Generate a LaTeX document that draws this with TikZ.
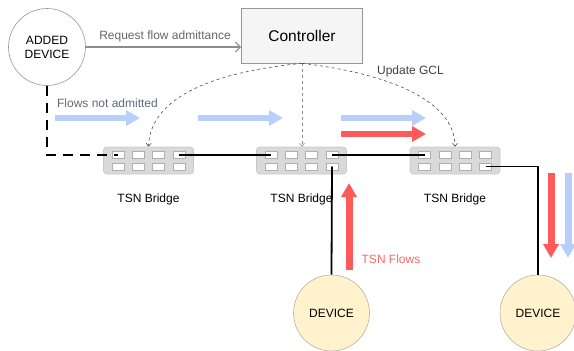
\documentclass[tikz,border=0pt]{standalone}
\usepackage{fontspec}
\setmainfont{Liberation Sans}
\usetikzlibrary{arrows.meta}
\definecolor{lblgray}{RGB}{102,102,102}
\definecolor{reqgray}{RGB}{140,140,140}
\definecolor{flowgray}{RGB}{95,105,120}
\definecolor{flowred}{RGB}{255,90,90}
\definecolor{txtred}{RGB}{255,102,102}
\definecolor{flowblue}{RGB}{183,207,250}
\definecolor{brfill}{RGB}{217,217,217}
\definecolor{bredge}{RGB}{200,200,200}
\definecolor{portedge}{RGB}{175,175,175}
\definecolor{devfill}{RGB}{255,242,204}
\definecolor{devedge}{RGB}{185,178,165}
\definecolor{ctrlfill}{RGB}{245,245,245}
\definecolor{ctrledge}{RGB}{150,150,150}
\begin{document}
\begin{tikzpicture}[x=1pt,y=-1pt,
  bridgebox/.style={draw=bredge, fill=brfill, rounded corners=3pt, minimum width=90pt, minimum height=27pt, inner sep=0pt, line width=0.6pt},
  port/.style={draw=portedge, fill=white, minimum width=12pt, minimum height=7pt, inner sep=0pt, line width=0.6pt},
  device/.style={circle, draw=devedge, fill=devfill, minimum size=76pt, inner sep=0pt, line width=0.6pt, font=\fontsize{12}{14}\selectfont},
  lbl/.style={font=\fontsize{12}{14}\selectfont, inner sep=0pt},
  flowarrow/.style={line width=6pt, -{Triangle[length=14pt,width=15pt]}},
  vflow/.style={line width=7pt, -{Triangle[length=14pt,width=15pt]}},
  link/.style={line width=1.8pt, black},
  dashlink/.style={line width=2pt, black, dash pattern=on 10pt off 7pt},
  ctrlline/.style={line width=0.6pt, dash pattern=on 3pt off 3pt, -{Straight Barb[length=3pt,width=5pt]}}
]
\useasboundingbox (0,0) rectangle (574,351);

% Controller and added device
\node[draw=ctrledge, fill=ctrlfill, minimum width=121pt, minimum height=55pt, inner sep=0pt, line width=0.6pt, font=\fontsize{15.5}{18}\selectfont] (ctrl) at (302,35.5) {Controller};
\node[circle, draw=ctrledge, fill=white, minimum size=77pt, inner sep=0pt, line width=0.6pt, align=center, font=\fontsize{12}{14}\selectfont] (added) at (47,47) {ADDED\\DEVICE};

% Bridges with ports
\foreach \b/\cx in {1/148.5,2/301.5,3/455}{
  \node[bridgebox] (br\b) at (\cx,160.5) {};
  \foreach \c/\dx in {1/-30.5,2/-10.2,3/10.2,4/30.5}{
    \node[port] (b\b-r1-c\c) at (\cx+\dx,155) {};
    \node[port] (b\b-r2-c\c) at (\cx+\dx,166.5) {};
  }
}
\node[lbl] (l1) at (148.5,199) {TSN Bridge};
\node[lbl] (l2) at (301.5,199) {TSN Bridge};
\node[lbl] (l3) at (455,199) {TSN Bridge};

% Devices
\node[device] (dev1) at (331.5,313) {DEVICE};
\node[device] (dev2) at (538,313) {DEVICE};

% Links
\draw[dashlink] (added.south) |- (b1-r1-c1.center);
\draw[link] (b1-r1-c4.center) -- (b2-r1-c1.center);
\draw[link] (b2-r1-c4.center) -- (b3-r1-c1.center);
\draw[link] (b2-r2-c4.center) -- (dev1.north);
\draw[link] (b3-r2-c4.center) -| (dev2.north);

% Request arrow
\draw[reqgray, line width=1.2pt, -{Straight Barb[length=5pt,width=10pt]}] (added.east) -- (added.east -| ctrl.west);
\node[lbl, text=lblgray] (req) at (165,36) {Request flow admittance};

% Controller dashed connectors
\draw[ctrlline, draw=black!70] (ctrl.south) .. controls (185,75) and (150,110) .. (br1.north);
\draw[ctrlline, draw=black!45] (ctrl.south) -- (ctrl.south |- br2.north);
\draw[ctrlline, draw=black!70] (ctrl.south) .. controls (400,75) and (455,105) .. (br3.north);
\node[lbl, text=black!75] (gcl) at (410.5,71.5) {Update GCL};

% Flow arrows
\node[lbl, text=flowgray] (fna) at (107.5,103.5) {Flows not admitted};
\draw[flowarrow, flowblue] (55,118) -- (140,118);
\draw[flowarrow, flowblue] (198,118) -- (283,118);
\draw[flowarrow, flowblue] (341,118) -- (426,118);
\draw[flowarrow, flowred] (341,134) -- (426,134);
\draw[vflow, flowred] (349,270) -- (349,183);
\draw[vflow, flowred] (551,173) -- (551,258);
\draw[vflow, flowblue] (568,173) -- (568,258);
\node[lbl, text=txtred] (tsnf) at (391,259.5) {TSN Flows};
\end{tikzpicture}
\end{document}
